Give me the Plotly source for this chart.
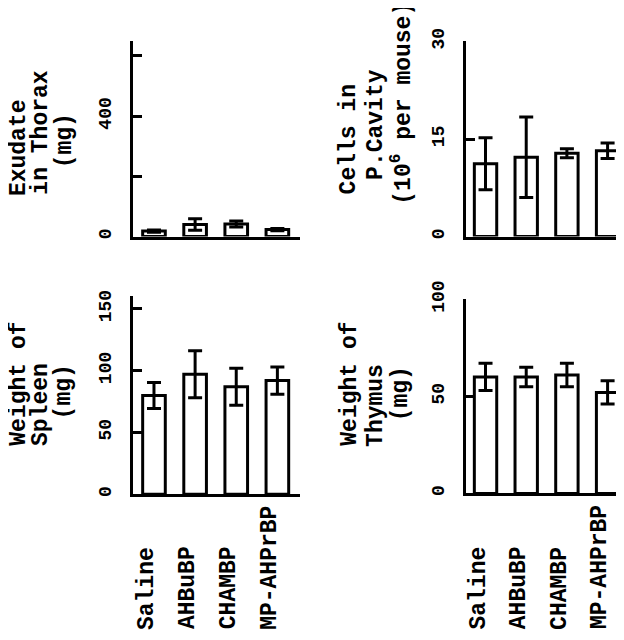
import plotly.graph_objects as go

categories = ["Saline", "AHBuBP", "CHAMBP", "MP-AHPrBP"]
exudate = [18, 40, 42, 23]
exudate_err = [4, 19, 10, 4]
cells = [11.2, 12.2, 12.8, 13.2]
cells_err = [4.0, 6.2, 0.7, 1.2]
spleen = [80, 97, 87, 92]
spleen_err = [10.5, 19, 15, 11]
thymus = [60, 60, 61, 52]
thymus_err = [7, 5, 6, 6]

W, H = 624, 640
FONT = "Liberation Mono"

def px(x):
    return x / W

def py(y):
    return 1 - y / H

fig = go.Figure()

panels = [
    ("x", "y", exudate, exudate_err),
    ("x2", "y2", cells, cells_err),
    ("x3", "y3", spleen, spleen_err),
    ("x4", "y4", thymus, thymus_err),
]
for xa, ya, vals, errs in panels:
    fig.add_trace(go.Bar(
        x=categories, y=vals, xaxis=xa, yaxis=ya, width=0.55,
        marker=dict(color="white", line=dict(color="black", width=3)),
        error_y=dict(type="data", array=errs, visible=True, color="black",
                     thickness=3, width=7),
        showlegend=False,
    ))

def xaxis(dom, rng, anchor):
    return dict(domain=dom, range=rng, anchor=anchor, showline=True, linecolor="black",
                linewidth=3, ticks="", showticklabels=False, showgrid=False,
                zeroline=False, fixedrange=True)

def yaxis(dom, rng, tv, tt, anchor):
    return dict(domain=dom, range=rng, anchor=anchor, showline=True, linecolor="black",
                linewidth=3, ticks="inside", ticklen=9, tickwidth=3,
                tickcolor="black", tickvals=tv, ticktext=tt, tickangle=-90,
                ticklabelstandoff=12,
                tickfont=dict(family=FONT, size=18, color="black", weight="bold"),
                showgrid=False, zeroline=False, fixedrange=True)

left_x = [px(125), px(292)]
right_x = [px(458), 1.0]

fig.update_layout(
    width=W, height=H, margin=dict(l=0, r=0, t=0, b=0),
    paper_bgcolor="white", plot_bgcolor="white",
    xaxis=xaxis(left_x, [-0.51, 3.55], "y"),
    yaxis=yaxis([py(217), py(15)], [0, 648], [0, 200, 400, 600], ["0", "", "400", ""], "x"),
    xaxis2=xaxis(right_x, [-0.48, 3.6], "y2"),
    yaxis2=yaxis([py(217), py(15)], [0, 30], [0, 15, 30], ["0", "15", "30"], "x2"),
    xaxis3=xaxis(left_x, [-0.51, 3.55], "y3"),
    yaxis3=yaxis([py(484), py(279)], [0, 160], [0, 50, 100, 150], ["0", "50", "100", "150"], "x3"),
    xaxis4=xaxis(right_x, [-0.48, 3.6], "y4"),
    yaxis4=yaxis([py(483), py(282)], [0, 100], [0, 50, 100], ["0", "50", "100"], "x4"),
)

def title_line(text, xc, yc):
    fig.add_annotation(text=text, x=px(xc), y=py(yc), xref="paper", yref="paper",
                       xanchor="center", yanchor="middle", textangle=-90, showarrow=False,
                       xshift=-5, yshift=17,
                       font=dict(family=FONT, size=23, color="black", weight="bold"))

# y-axis titles (each line placed separately)
title_line("Exudate", 16, 143)
title_line("in Thorax", 38, 127)
title_line("(mg)", 62, 135)

title_line("Cells in", 346, 134)
title_line("P.Cavity", 373, 119)
title_line("(10<sup>6</sup> per mouse)", 399, 96)

title_line("Weight of", 16, 387)
title_line("Spleen", 38, 409)
title_line("(mg)", 61, 396)

title_line("Weight of", 347, 387)
title_line("Thymus", 373, 410)
title_line("(mg)", 398, 398)

# category labels below the bottom panels
for xr in ["x3", "x4"]:
    for c in categories:
        fig.add_annotation(text=c, x=c, xref=xr, y=py(626), yref="paper",
                           xanchor="center", yanchor="bottom", textangle=-90,
                           showarrow=False, xshift=-7,
                           font=dict(family=FONT, size=23, color="black", weight="bold"))

fig.write_html("out.html")
